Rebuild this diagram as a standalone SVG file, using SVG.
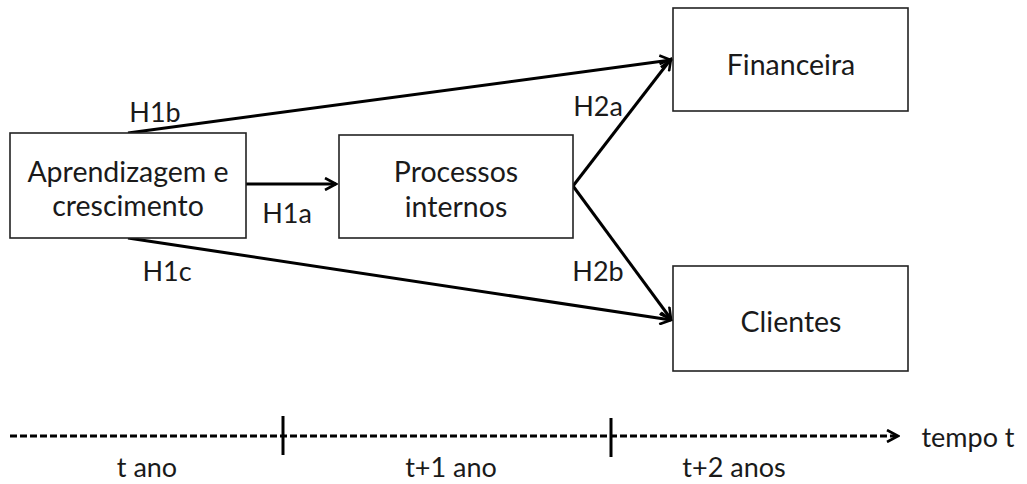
<svg xmlns="http://www.w3.org/2000/svg" width="1027" height="484" viewBox="0 0 1027 484">
<style>
.box{fill:#fff;stroke:#222;stroke-width:1.6}
.t{font-family:Lato,"Liberation Sans",sans-serif;font-size:28.5px;fill:#1a1a1a;text-anchor:middle}
.l{font-family:Lato,"Liberation Sans",sans-serif;font-size:27px;fill:#1a1a1a;text-anchor:middle}
.c{stroke:#000;stroke-width:3;fill:none}
.d{stroke:#000;stroke-width:3;fill:none;stroke-dasharray:7 3}
</style>
<defs>
<marker id="ah" viewBox="0 0 14 14" refX="12" refY="7" markerWidth="14" markerHeight="14" markerUnits="userSpaceOnUse" orient="auto">
<path d="M1,1 L12,7 L1,13" fill="none" stroke="#000" stroke-width="2.6"/>
</marker>
</defs>
<rect width="1027" height="484" fill="#fff"/>
<g id="connectors">
<line class="c" x1="128" y1="133" x2="671" y2="60" marker-end="url(#ah)"/>
<line class="c" x1="246" y1="184" x2="336" y2="184" marker-end="url(#ah)"/>
<line class="c" x1="128" y1="238" x2="671" y2="320" marker-end="url(#ah)"/>
<line class="c" x1="573" y1="186" x2="671" y2="59" marker-end="url(#ah)"/>
<line class="c" x1="573" y1="186" x2="671" y2="319" marker-end="url(#ah)"/>
<text class="l" x="155" y="122">H1b</text>
<text class="l" x="287" y="223">H1a</text>
<text class="l" x="167" y="281">H1c</text>
<text class="l" x="598" y="116">H2a</text>
<text class="l" x="598" y="281">H2b</text>
</g>
<g id="node-aprendizagem">
<rect class="box" x="10" y="133" width="236" height="105"/>
<text class="t" x="128" y="182">Aprendizagem e</text>
<text class="t" x="128" y="216">crescimento</text>
</g>
<g id="node-processos">
<rect class="box" x="339" y="135" width="234" height="103"/>
<text class="t" x="456" y="182">Processos</text>
<text class="t" x="456" y="217">internos</text>
</g>
<g id="node-financeira">
<rect class="box" x="673" y="8" width="235" height="103"/>
<text class="t" x="791" y="75">Financeira</text>
</g>
<g id="node-clientes">
<rect class="box" x="673" y="266" width="235" height="105"/>
<text class="t" x="791" y="332">Clientes</text>
</g>
<g id="timeline">
<line class="d" x1="10" y1="436" x2="898" y2="436" marker-end="url(#ah)"/>
<line class="c" x1="283" y1="416" x2="283" y2="455" stroke-width="2"/>
<line class="c" x1="611" y1="418" x2="611" y2="457" stroke-width="2"/>
<text class="l" x="968" y="447">tempo t</text>
<text class="l" x="147" y="477">t ano</text>
<text class="l" x="451" y="477">t+1 ano</text>
<text class="l" x="734" y="477">t+2 anos</text>
</g>
</svg>
